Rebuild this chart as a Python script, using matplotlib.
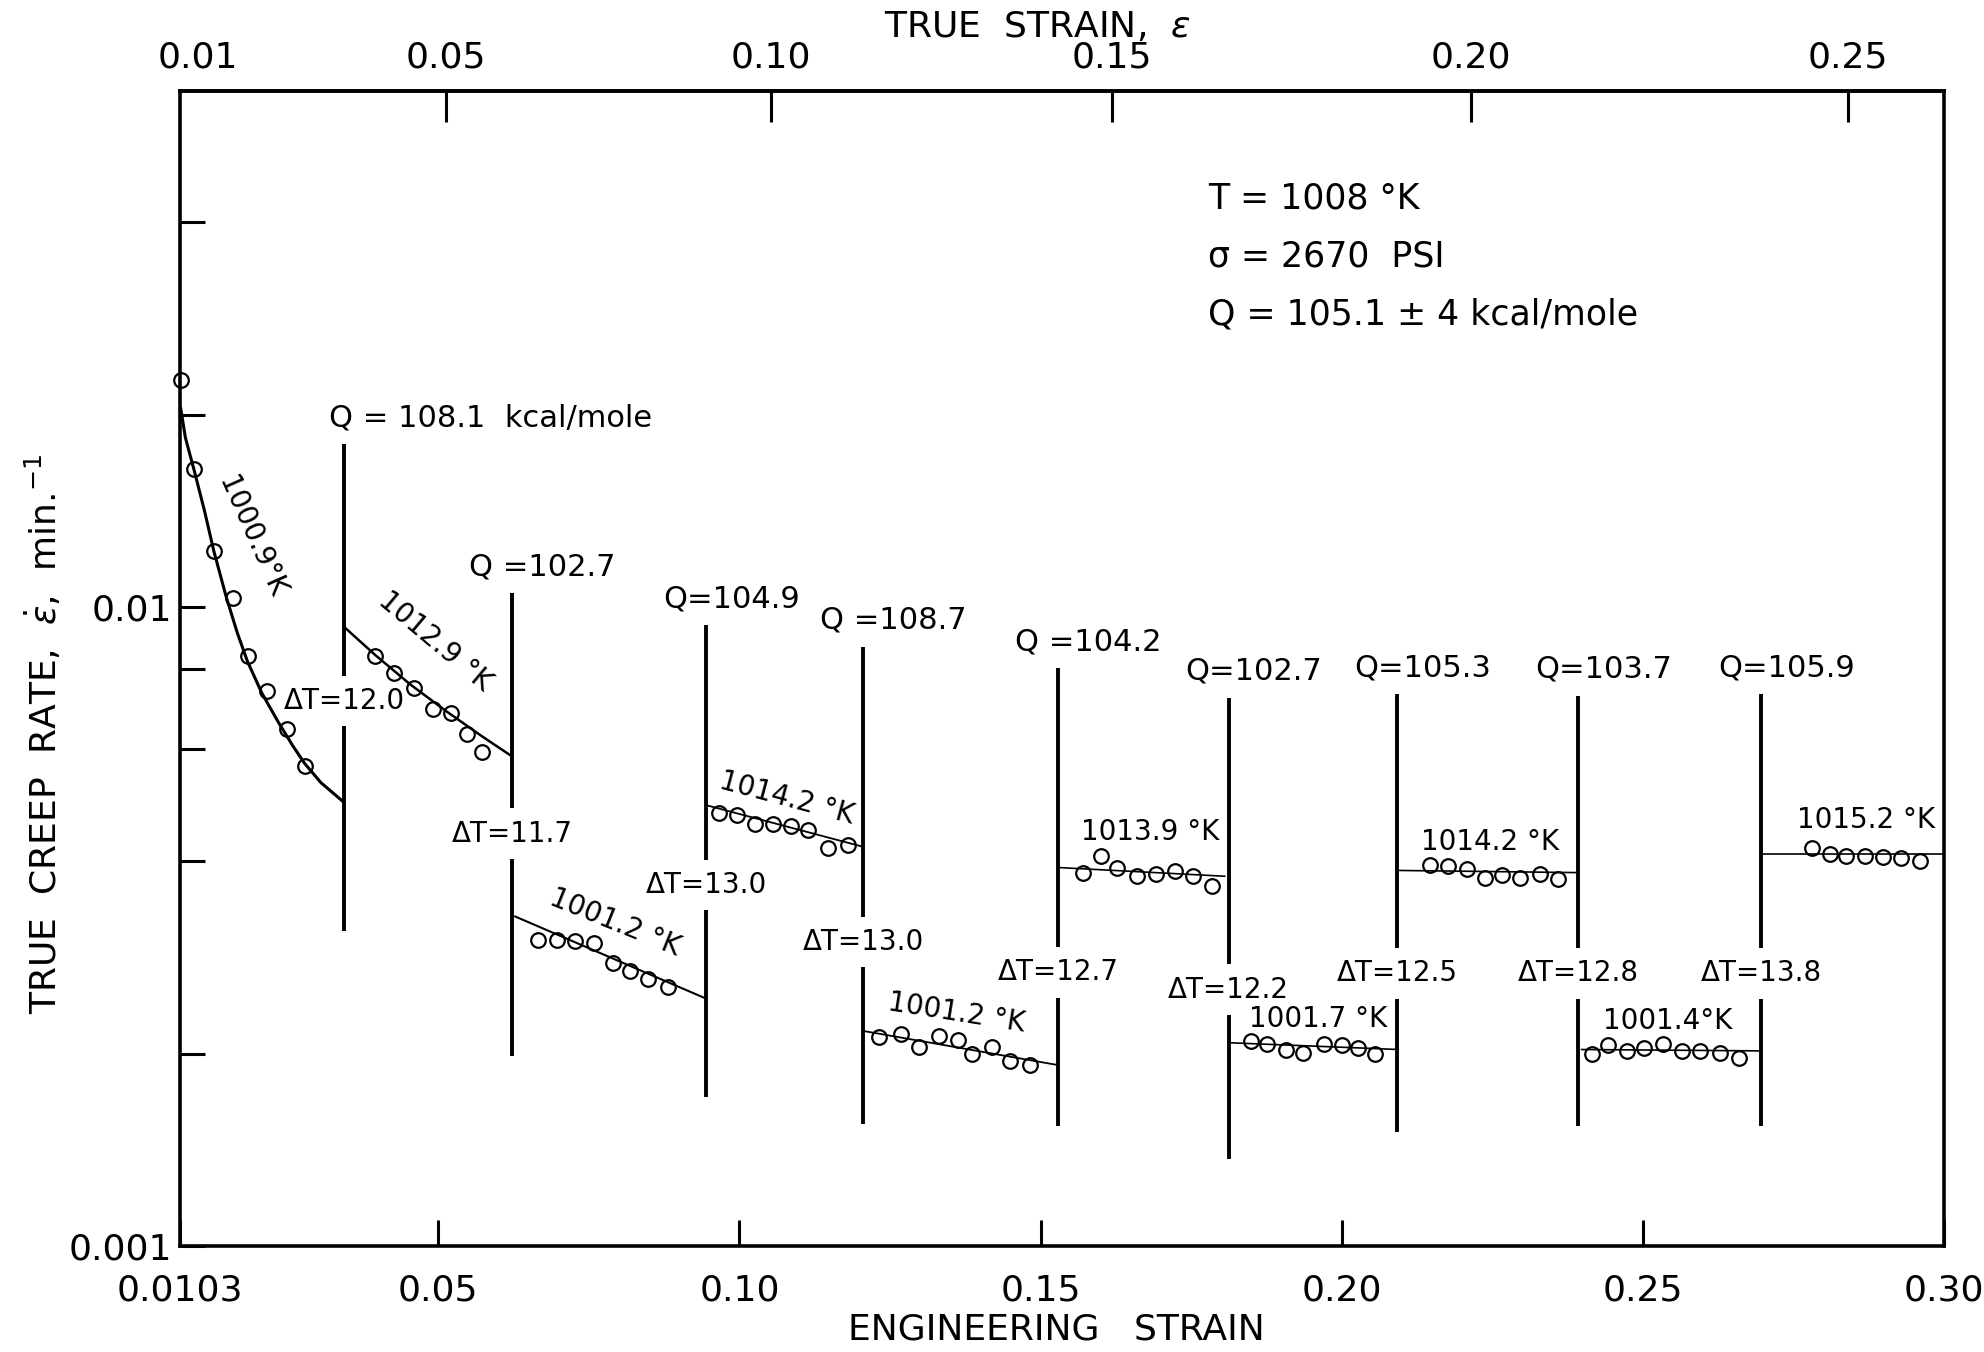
import numpy as np
import matplotlib
matplotlib.use("Agg")
import matplotlib.pyplot as plt
from matplotlib.ticker import FixedLocator, FixedFormatter, NullFormatter

plt.rcParams['font.family'] = ['DejaVu Sans']
plt.rcParams['mathtext.fontset'] = 'dejavusans'

# ---------------- axis ranges and tick labels ----------------
x_range = (0.0071, 0.300)          # engineering strain spanned by the frame
y_range = (0.001, 0.0642)          # true creep rate, min^-1 (log)
eng_ticks = [x_range[0], 0.05, 0.10, 0.15, 0.20, 0.25, 0.30]
eng_tick_labels = ["0.0103", "0.05", "0.10", "0.15", "0.20", "0.25", "0.30"]
true_ticks = [0.05, 0.10, 0.15, 0.20, 0.25]
true_tick_labels = ["0.05", "0.10", "0.15", "0.20", "0.25"]
true_first_tick = [0.01]
true_first_label = ["0.01"]
rate_major = [0.001, 0.01]
rate_major_labels = ["0.001", "0.01"]
rate_minor = [0.002, 0.004, 0.006, 0.008, 0.02, 0.04]

# ---------------- fitted curves for each temperature step ----------------
curve_strain = [
    [0.0072, 0.0080, 0.0095, 0.0112, 0.0127, 0.0148, 0.0166, 0.0183, 0.0207, 0.0234, 0.0258, 0.0278, 0.0305, 0.0344],
    [0.0345, 0.0394, 0.0453, 0.0513, 0.0572, 0.0622],
    [0.0627, 0.0944],
    [0.0947, 0.1203],
    [0.1206, 0.1528],
    [0.1532, 0.1806],
    [0.1814, 0.2094],
    [0.2096, 0.2393],
    [0.2398, 0.2694],
    [0.2697, 0.2999],
]
curve_rate = [
    [0.0205, 0.0184, 0.0163, 0.0141, 0.01225, 0.01035, 0.00912, 0.00822, 0.00733, 0.00661, 0.00607, 0.00569, 0.00531, 0.00494],
    [0.00928, 0.00843, 0.00757, 0.00687, 0.00628, 0.00584],
    [0.00328, 0.00244],
    [0.00489, 0.00422],
    [0.00217, 0.00192],
    [0.00391, 0.00379],
    [0.00208, 0.00203],
    [0.00387, 0.00384],
    [0.00203, 0.00202],
    [0.00410, 0.00410],
]

# ---------------- measured points ----------------
point_strain = [
    [0.0072, 0.00945, 0.01272, 0.01597, 0.01834, 0.0216, 0.02487, 0.02782],
    [0.0394, 0.04265, 0.04592, 0.04917, 0.05214, 0.0548, 0.05717],
    [0.06647, 0.06976, 0.07271, 0.0758, 0.07894, 0.08189, 0.08484, 0.08813],
    [0.09665, 0.0996, 0.10256, 0.10551, 0.10847, 0.11142, 0.1147, 0.11797],
    [0.12322, 0.12684, 0.1298, 0.13307, 0.13636, 0.13865, 0.14193, 0.1449, 0.14816],
    [0.157, 0.160, 0.16274, 0.16606, 0.16916, 0.17231, 0.17535, 0.1784],
    [0.18487, 0.18764, 0.19074, 0.19361, 0.19705, 0.19999, 0.20275, 0.20551],
    [0.21464, 0.21769, 0.22073, 0.22377, 0.22654, 0.22958, 0.2329, 0.23594],
    [0.24149, 0.24424, 0.24729, 0.25017, 0.25337, 0.25642, 0.25946, 0.26278, 0.26599],
    [0.278, 0.28104, 0.28381, 0.28685, 0.28989, 0.29294, 0.29609],
]
point_rate = [
    [0.02264, 0.01646, 0.01224, 0.01034, 0.00838, 0.00739, 0.00644, 0.00564],
    [0.00838, 0.00789, 0.00748, 0.00692, 0.00683, 0.00632, 0.00592],
    [0.00301, 0.00301, 0.00300, 0.00298, 0.00277, 0.00269, 0.00262, 0.00254],
    [0.00476, 0.00473, 0.00457, 0.00458, 0.00455, 0.00448, 0.00419, 0.00424],
    [0.00212, 0.002145, 0.00205, 0.00213, 0.00210, 0.00200, 0.00205, 0.00195, 0.00192],
    [0.00384, 0.00408, 0.00391, 0.00379, 0.00382, 0.00386, 0.00379, 0.00366],
    [0.002093, 0.002068, 0.00203, 0.002006, 0.00207, 0.002064, 0.002043, 0.00200],
    [0.00395, 0.00393, 0.00389, 0.00377, 0.00381, 0.00377, 0.00382, 0.00375],
    [0.00200, 0.002064, 0.00202, 0.00204, 0.00207, 0.00202, 0.00202, 0.002006, 0.00197],
    [0.00420, 0.00411, 0.00408, 0.00408, 0.00406, 0.00405, 0.00401],
]

# ---------------- temperature labels on the curves ----------------
temp_labels = ["1000.9°K", "1012.9 °K", "1001.2 °K", "1014.2 °K", "1001.2 °K",
               "1013.9 °K", "1001.7 °K", "1014.2 °K", "1001.4°K", "1015.2 °K"]
temp_label_strain = [0.0190, 0.0495, 0.0793, 0.1078, 0.1361, 0.1682, 0.1960, 0.2246, 0.2541, 0.2870]
temp_label_rate = [0.01285, 0.00885, 0.00321, 0.00502, 0.00232, 0.00444, 0.00227, 0.00429, 0.00225, 0.00464]
temp_label_angle = [-66, -40, -22, -15, -9, 0, 0, 0, 0, 0]

# ---------------- temperature jumps ----------------
jump_strain = [0.0344, 0.0623, 0.0945, 0.1205, 0.1529, 0.1812, 0.2092, 0.2393, 0.2696]
jump_top = [0.0180, 0.0105, 0.00936, 0.00867, 0.00803, 0.00721, 0.00730, 0.00726, 0.00730]
jump_bottom = [0.00311, 0.00198, 0.00171, 0.00155, 0.00154, 0.00137, 0.00151, 0.00154, 0.00154]
q_labels = ["Q = 108.1  kcal/mole", "Q =102.7", "Q=104.9", "Q =108.7", "Q =104.2",
            "Q=102.7", "Q=105.3", "Q=103.7", "Q=105.9"]
dT_labels = ["ΔT=12.0", "ΔT=11.7", "ΔT=13.0", "ΔT=13.0", "ΔT=12.7",
             "ΔT=12.2", "ΔT=12.5", "ΔT=12.8", "ΔT=13.8"]
dT_rate = [0.00713, 0.00442, 0.00367, 0.00299, 0.00268, 0.00252, 0.00267, 0.00267, 0.00267]

info_lines = ["T = 1008 °K", "σ = 2670  PSI", "Q = 105.1 ± 4 kcal/mole"]

# ---------------- figure ----------------
W, H = 1984, 1352
fig = plt.figure(figsize=(W / 100, H / 100), dpi=100)
fig.patch.set_facecolor('white')
ax = fig.add_axes([180 / W, 106 / H, 1764 / W, 1155 / H])
ax.set_yscale('log')
ax.set_xlim(*x_range)
ax.set_ylim(*y_range)
for sp in ax.spines.values():
    sp.set_linewidth(2.6)

TICK_FS = 26
ax.xaxis.set_major_locator(FixedLocator(eng_ticks))
ax.xaxis.set_major_formatter(FixedFormatter(eng_tick_labels))
ax.xaxis.set_minor_locator(FixedLocator([]))
ax.tick_params(axis='x', which='major', direction='in', length=19, width=2.2,
               labelsize=TICK_FS, pad=20, top=False)
ax.yaxis.set_major_locator(FixedLocator(rate_major))
ax.yaxis.set_major_formatter(FixedFormatter(rate_major_labels))
ax.yaxis.set_minor_locator(FixedLocator(rate_minor))
ax.yaxis.set_minor_formatter(NullFormatter())
ax.tick_params(axis='y', which='both', direction='in', length=18, width=2.2,
               labelsize=TICK_FS, pad=6, right=False)

sec = ax.secondary_xaxis('top', functions=(np.log1p, np.expm1))
sec.xaxis.set_major_locator(FixedLocator(true_ticks))
sec.xaxis.set_major_formatter(FixedFormatter(true_tick_labels))
sec.xaxis.set_minor_locator(FixedLocator(true_first_tick))
sec.xaxis.set_minor_formatter(FixedFormatter(true_first_label))
sec.tick_params(which='major', direction='in', length=22, width=2.2, labelsize=TICK_FS, pad=12)
sec.tick_params(which='minor', direction='in', length=0, labelsize=TICK_FS, pad=12)
sec.spines['top'].set_linewidth(2.6)

# temperature-jump lines (broken by the ΔT labels)
ax.vlines(jump_strain, jump_bottom, jump_top, color='black', lw=2.8, zorder=2)
q_dx = [-11] + [-31] * (len(q_labels) - 1)
for xs, top, q, dx in zip(jump_strain, jump_top, q_labels, q_dx):
    ax.annotate(q, (xs, top), xytext=(dx, 19), textcoords='offset points',
                ha='left', va='center', fontsize=22, zorder=5)
for xs, yr, t in zip(jump_strain, dT_rate, dT_labels):
    ax.text(xs, yr, t, ha='center', va='center', fontsize=20, zorder=2.5,
            bbox=dict(boxstyle='square,pad=0.4', fc='white', ec='none'))

# curves and points (above the label boxes)
curve_lw = [2.2, 1.8, 1.5, 1.3, 1.3, 1.2, 1.2, 1.2, 1.2, 1.2]
for ce, cr, lw in zip(curve_strain, curve_rate, curve_lw):
    ax.plot(ce, cr, color='black', lw=lw, solid_capstyle='round', zorder=3)
for pe, pr in zip(point_strain, point_rate):
    ax.plot(pe, pr, 'o', mfc='none', mec='black', ms=10.5, mew=1.6,
            clip_on=False, zorder=4)

for t, xs, yr, ang in zip(temp_labels, temp_label_strain, temp_label_rate, temp_label_angle):
    ax.text(xs, yr, t, ha='center', va='center', rotation=ang,
            rotation_mode='anchor', fontsize=20, zorder=6)

for i, line in enumerate(info_lines):
    ax.text(0.583, 0.907 - 0.0503 * i, line, transform=ax.transAxes,
            ha='left', va='center', fontsize=25)

fig.text(1037 / W, 1 - 27 / H, r"TRUE  STRAIN,  $\varepsilon$", ha='center', va='center', fontsize=26)
fig.text(1056 / W, 1 - 1330 / H, "ENGINEERING   STRAIN", ha='center', va='center', fontsize=26)
fig.text(44 / W, 1 - 734 / H, r"TRUE  CREEP  RATE,  $\dot{\varepsilon}$,  min.$^{-1}$",
         ha='center', va='center', rotation=90, fontsize=26)

fig.savefig("out.png", dpi=100, facecolor='white')
